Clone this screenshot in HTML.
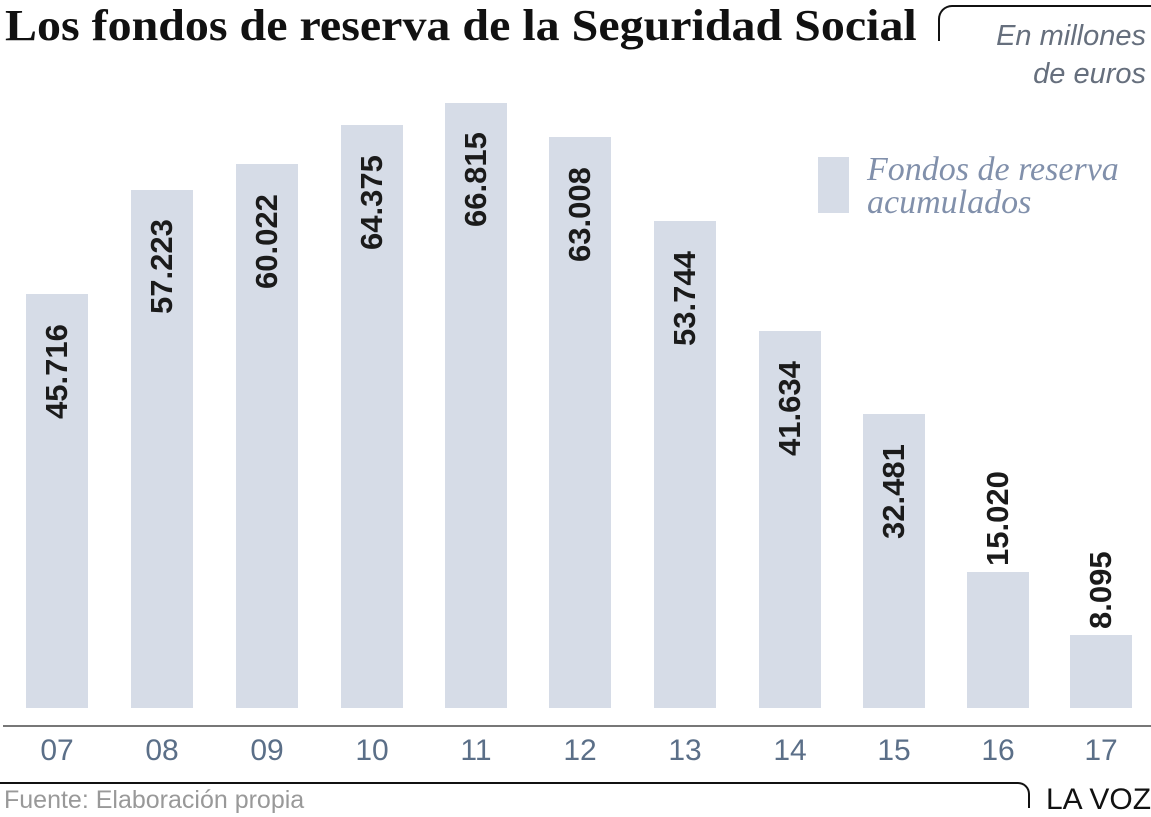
<!DOCTYPE html>
<html><head><meta charset="utf-8"><style>
body{margin:0;width:1151px;height:817px;background:#fff;position:relative;overflow:hidden;font-family:"Liberation Sans",sans-serif}
.a{position:absolute}
.bar{position:absolute;background:#d6dce7;bottom:109px;width:62px}
.lbl{position:absolute;font-weight:bold;font-size:31px;color:#1b1b1b;transform:rotate(-90deg);transform-origin:0 0;white-space:nowrap;line-height:30px}
.yr{position:absolute;top:734px;width:80px;text-align:center;font-size:30px;color:#5b6f88}
</style></head><body>
<div class="a" style="left:5px;top:0px;font-family:'Liberation Serif',serif;font-weight:bold;font-size:44px;color:#111;white-space:nowrap;transform:scaleX(1.09);transform-origin:0 0">Los fondos de reserva de la Seguridad Social</div>
<div class="a" style="left:938px;top:5px;width:215px;height:34px;border-top:2px solid #111;border-left:2px solid #111;border-top-left-radius:14px"></div>
<div class="a" style="right:5px;top:17px;text-align:right;font-style:italic;font-size:29px;line-height:38px;color:#666f7d">En millones<br>de euros</div>
<div class="a" style="left:818px;top:157px;width:31px;height:56px;background:#d6dce7"></div>
<div class="a" style="left:867px;top:153px;font-family:'Liberation Serif',serif;font-style:italic;font-size:34px;line-height:33px;color:#8190ab">Fondos de reserva<br>acumulados</div>
<div class="a" style="left:3px;top:725px;width:1148px;height:2px;background:#777"></div>
<div class="a" style="left:0;top:782px;width:1028px;height:24px;border-top:2px solid #111;border-right:2px solid #111;border-top-right-radius:12px"></div>
<div class="a" style="left:1046px;top:783px;font-size:30px;color:#111;white-space:nowrap">LA VOZ</div>
<div class="a" style="left:4px;top:786px;font-size:25px;color:#999;white-space:nowrap">Fuente: Elaboración propia</div>
<div id="c"></div>
<script>
var d=[["07",45716,26],["08",57223,131],["09",60022,236],["10",64375,341],["11",66815,445],["12",63008,549],["13",53744,654],["14",41634,759],["15",32481,863],["16",15020,967],["17",8095,1070]];
var h="";
d.forEach(function(r){
 var ht=r[1]*0.00906, top=708-ht, cx=r[2]+31;
 var txt=r[1].toLocaleString("de-DE");
 var w=txt.length*16.8;
 h+='<div class="bar" style="left:'+r[2]+'px;height:'+ht+'px"></div>';
 var bottomY = r[1]<20000 ? top-6 : top+24+w;
 h+='<div class="lbl" style="left:'+(cx-15)+'px;top:'+bottomY+'px">'+txt+'</div>';
 h+='<div class="yr" style="left:'+(cx-40)+'px">'+r[0]+'</div>';
});
document.getElementById("c").innerHTML=h;
</script>
</body></html>
